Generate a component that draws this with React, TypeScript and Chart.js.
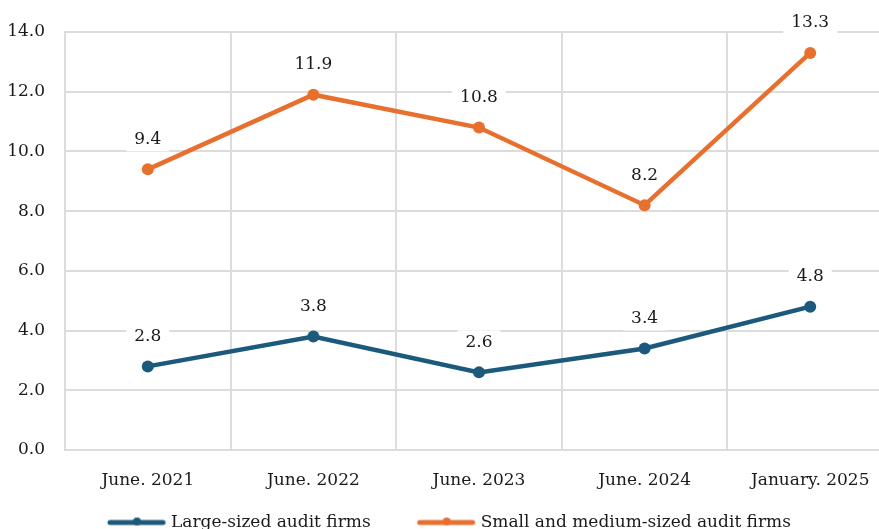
import React, { useEffect, useRef } from "react";
import { Chart, registerables } from "chart.js";

Chart.register(...registerables);

const categories = ["June. 2021", "June. 2022", "June. 2023", "June. 2024", "January. 2025"];
const largeFirms = [2.8, 3.8, 2.6, 3.4, 4.8];
const smallMediumFirms = [9.4, 11.9, 10.8, 8.2, 13.3];
const seriesNames = ["Large-sized audit firms", "Small and medium-sized audit firms"];
const yMin = 0;
const yMax = 14;
const yStep = 2;

const BLUE = "#1c5a7c";
const ORANGE = "#e8702f";
const GRID = "#dcdcdc";
const TEXT = "#1a1a1a";
const FONT = "'DejaVu Serif', serif";
const FONT_SIZE = 17;

const W = 900;
const H = 541;
const PLOT_RIGHT = 893;
const LEGEND_BOX = 93.5;
const LEGEND_TARGET_TEXT1 = 171;

function legendImage(color: string) {
  const c = document.createElement("canvas");
  c.width = 120;
  c.height = 12;
  const ctx = c.getContext("2d")!;
  const off = 60 - LEGEND_BOX / 2;
  ctx.strokeStyle = color;
  ctx.lineWidth = 5;
  ctx.lineCap = "round";
  ctx.beginPath();
  ctx.moveTo(off + 41, 6);
  ctx.lineTo(off + 94, 6);
  ctx.stroke();
  ctx.fillStyle = color;
  ctx.beginPath();
  ctx.arc(off + 68, 5, 4, 0, Math.PI * 2);
  ctx.fill();
  return c;
}

const valueLabels = {
  id: "valueLabels",
  beforeDatasetsDraw(chart: any) {
    const ctx = chart.ctx;
    ctx.save();
    ctx.font = `${FONT_SIZE}px ${FONT}`;
    ctx.textAlign = "center";
    ctx.textBaseline = "middle";
    chart.data.datasets.forEach((ds: any, i: number) => {
      const meta = chart.getDatasetMeta(i);
      meta.data.forEach((pt: any, j: number) => {
        const txt = Number(ds.data[j]).toFixed(1);
        const w = ctx.measureText(txt).width;
        const x = pt.x;
        const y = pt.y - 30;
        ctx.fillStyle = "#ffffff";
        ctx.fillRect(x - w / 2 - 8, y - 12, w + 16, 24);
        ctx.fillStyle = TEXT;
        ctx.fillText(txt, x, y);
      });
    });
    ctx.restore();
  },
};

const legendShift = {
  id: "legendShift",
  afterLayout(chart: any) {
    const lg = chart.legend;
    if (!lg || !lg.legendHitBoxes || !lg.lineWidths) return;
    const pad = lg.options.labels.padding;
    const x0 = (lg.left + pad + lg.right - lg.lineWidths[0]) / 2;
    const text1 = x0 + LEGEND_BOX + FONT_SIZE / 2;
    const dx = LEGEND_TARGET_TEXT1 - text1;
    lg.left += dx;
    lg.right += dx;
  },
};

export default function App() {
  const ref = useRef<HTMLCanvasElement | null>(null);

  useEffect(() => {
    if (!ref.current) return;
    const images = [legendImage(BLUE), legendImage(ORANGE)];
    const chart = new Chart(ref.current, {
      type: "line",
      data: {
        labels: categories,
        datasets: [
          {
            label: seriesNames[0],
            data: largeFirms,
            borderColor: BLUE,
            backgroundColor: BLUE,
            borderWidth: 4.5,
            pointRadius: 6,
            pointBackgroundColor: BLUE,
            pointBorderWidth: 0,
            tension: 0,
          },
          {
            label: seriesNames[1],
            data: smallMediumFirms,
            borderColor: ORANGE,
            backgroundColor: ORANGE,
            borderWidth: 4.5,
            pointRadius: 6,
            pointBackgroundColor: ORANGE,
            pointBorderWidth: 0,
            tension: 0,
          },
        ],
      },
      options: {
        responsive: false,
        animation: false,
        events: [],
        layout: { padding: { left: 0, right: W - PLOT_RIGHT, top: 32, bottom: 0 } },
        plugins: {
          tooltip: { enabled: false },
          legend: {
            position: "bottom",
            labels: {
              usePointStyle: true,
              pointStyleWidth: LEGEND_BOX,
              padding: 8,
              color: TEXT,
              font: { family: FONT, size: FONT_SIZE },
              generateLabels: (ch: any) => {
                const items = Chart.defaults.plugins.legend.labels.generateLabels(ch);
                return items.map((it: any, k: number) => ({ ...it, pointStyle: images[k] }));
              },
            },
          },
        },
        scales: {
          x: {
            offset: true,
            grid: { color: GRID, lineWidth: 2, drawTicks: false, offset: true },
            border: { color: GRID, width: 2 },
            ticks: {
              padding: 20,
              color: TEXT,
              maxRotation: 0,
              autoSkip: false,
              font: { family: FONT, size: FONT_SIZE },
            },
            afterFit: (s: any) => {
              s.height = 56;
            },
          },
          y: {
            min: yMin,
            max: yMax,
            grid: { color: GRID, lineWidth: 2, drawTicks: false },
            border: { color: GRID, width: 2 },
            ticks: {
              stepSize: yStep,
              padding: 20,
              color: TEXT,
              font: { family: FONT, size: FONT_SIZE },
              callback: (v: any) => Number(v).toFixed(1),
            },
            afterFit: (s: any) => {
              s.width = 65;
            },
          },
        },
      },
      plugins: [valueLabels, legendShift],
    });
    return () => chart.destroy();
  }, []);

  return (
    <div
      style={{
        position: "absolute",
        left: 0,
        top: 0,
        width: 879,
        height: 529,
        overflow: "hidden",
        background: "#ffffff",
      }}
    >
      <canvas ref={ref} width={W} height={H} style={{ width: W, height: H, display: "block" }} />
    </div>
  );
}
